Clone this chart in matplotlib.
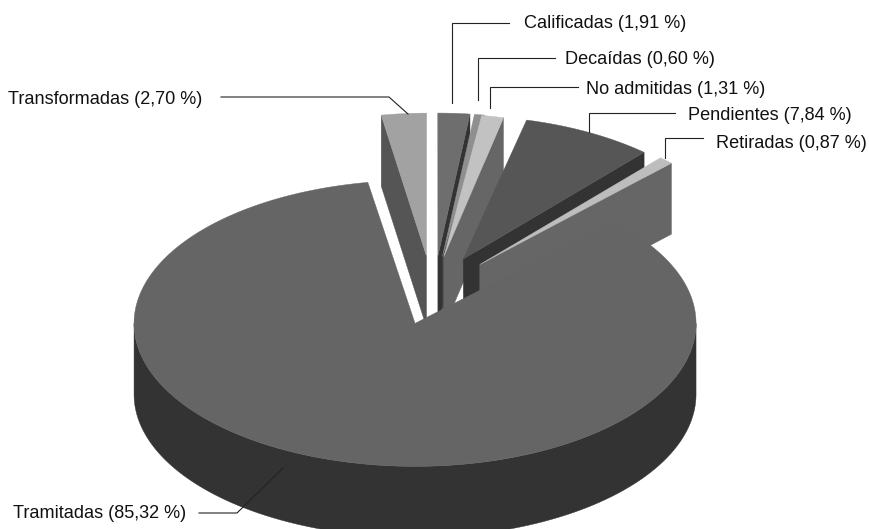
import numpy as np
import matplotlib
matplotlib.use("Agg")
import matplotlib.pyplot as plt
from matplotlib.patches import Polygon

categories = ["Calificadas", "Decaídas", "No admitidas", "Pendientes", "Retiradas", "Tramitadas", "Transformadas"]
values = [1.91, 0.60, 1.31, 7.84, 0.87, 85.32, 2.70]

top_colors = ["#6e6e6e", "#8f8f8f", "#c2c2c2", "#565656", "#bdbdbd", "#656565", "#a2a2a2"]
wall_colors = ["#333333", "#444444", "#666666", "#333333", "#666666", "#333333", "#555555"]
draw_order = [6, 0, 1, 2, 3, 4, 5]
nudge_arc = [-1, -1.5, -8, -2, 0, 0, -3]
nudge_apex = [-1, -1.5, -4, -2, 0, 0, -3]
nudge_y = [1, 1, 1, 0, 0, 0, 1]
persp = [0.00018, 0.00018, 0.00018, 0.00018, 0.00018, 0.0, 0.00018]

A, B, DEPTH = 281.0, 143.0, 71.0
CX, CY = 435.0, 290.0
EXPL_X, EXPL_Y = 66.0, 35.0

fig = plt.figure(figsize=(8.69, 5.29), dpi=100)
ax = fig.add_axes([0, 0, 1, 1])
ax.set_xlim(0, 869)
ax.set_ylim(529, 0)
ax.axis("off")

total = sum(values)
edges = np.concatenate([[0], np.cumsum(values)]) / total * 360

for idx in draw_order:
    t0, t1 = edges[idx], edges[idx + 1]
    mid = np.radians((t0 + t1) / 2)
    k = persp[idx]
    apx = CX + EXPL_X * np.sin(mid)
    apy = CY - EXPL_Y * np.cos(mid) + nudge_y[idx]
    th = np.radians(np.linspace(t0, t1, max(int(t1 - t0) * 2, 4)))
    arc_y = apy - B * np.cos(th)
    arc_x = apx + A * np.sin(th)

    def px(x, y):
        return CX + (x - CX) * (1 + k * (y - 323))

    ax_arc = px(arc_x, arc_y) + nudge_arc[idx]
    ax_apex = px(apx, apy) + nudge_apex[idx]
    col_t, col_w = top_colors[idx], wall_colors[idx]

    def poly(xs, ys, c):
        ax.add_patch(Polygon(np.column_stack([xs, ys]), closed=True, fc=c, ec=c, lw=0.3))

    if idx == 5:
        # outer curved wall, front half only
        vis = np.radians(np.linspace(90, 270, 200))
        wy = apy - B * np.cos(vis)
        wx = px(apx + A * np.sin(vis), wy)
        poly(np.r_[wx, wx[::-1]], np.r_[wy, wy[::-1] + DEPTH], col_w)
    elif idx == 6:
        # wall below the start edge
        poly([ax_arc[0], ax_arc[0], ax_apex, ax_apex],
             [arc_y[0], arc_y[0] + DEPTH, apy + DEPTH, apy], col_w)
    else:
        # wall below the end edge
        poly([ax_arc[-1], ax_arc[-1], ax_apex, ax_apex],
             [arc_y[-1], arc_y[-1] + DEPTH, apy + DEPTH, apy], col_w)
    poly(np.r_[ax_apex, ax_arc], np.r_[apy, arc_y], col_t)

pct = [f"{c} ({v:.2f} %)".replace(".", ",") for c, v in zip(categories, values)]
label_pos = [(524, 23), (565, 59), (586, 89), (688, 115), (716, 143), (13, 513), (8, 99)]
leaders = [
    [(509, 23), (452, 23), (452, 103)],
    [(555, 58), (478, 58), (478, 100)],
    [(578, 87), (490, 87), (490, 108)],
    [(675, 113), (589, 113), (589, 132)],
    [(703, 138), (665, 138), (665, 158)],
    [(199, 513), (237, 513), (283, 468)],
    [(221, 97), (389, 97), (408, 114)],
]
for s, (x, y), pts in zip(pct, label_pos, leaders):
    ax.text(x, y, s, family="Liberation Sans", fontsize=13.1, color="#111111", ha="left", va="center")
    xs, ys = zip(*pts)
    ax.plot(xs, ys, color="#222222", lw=0.8, solid_joinstyle="miter")

fig.savefig("out.png", dpi=100)
